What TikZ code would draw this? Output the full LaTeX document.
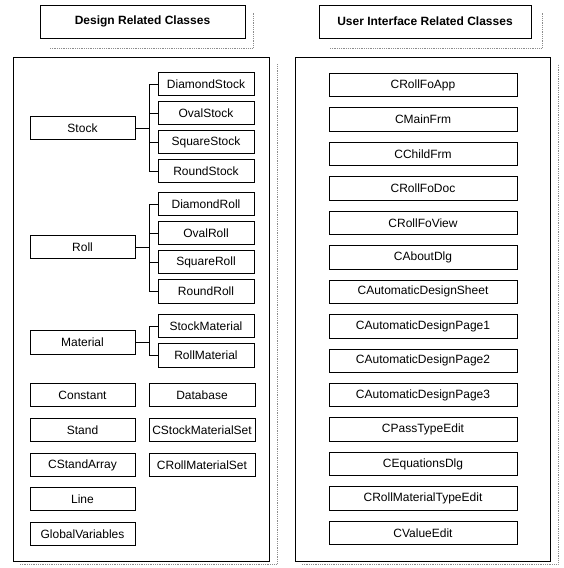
\documentclass[tikz,border=0pt]{standalone}
\usepackage{fontspec}
\setmainfont{Liberation Sans}
\begin{document}
\begin{tikzpicture}[x=1pt,y=-1pt,
  cls/.style={draw=black,line width=0.8pt,rectangle,inner sep=0pt,minimum height=23.5pt,font=\fontsize{12}{14}\selectfont},
  mainbox/.style={cls,minimum width=105pt},
  subbox/.style={cls,minimum width=96pt},
  setbox/.style={cls,minimum width=106pt},
  uibox/.style={cls,minimum width=188pt},
  titlebox/.style={draw=black,line width=0.9pt,rectangle,inner sep=0pt,minimum height=33pt,font=\fontsize{12}{14}\selectfont\bfseries},
  panel/.style={draw=black,line width=0.9pt},
  shadow/.style={draw=black!45,line width=0.8pt,densely dotted},
  link/.style={draw=black,line width=0.8pt}]
\useasboundingbox (0,0) rectangle (563,568);

% title boxes with shadows
\draw[shadow] (50,48) -- (253,48) -- (253,13);
\node[titlebox,minimum width=205pt] (t1) at (142.5,21.5) {Design Related Classes};
\draw[shadow] (330,48) -- (542,48) -- (542,13);
\node[titlebox,minimum width=212pt] (t2) at (425,21.5) {User Interface Related Classes};

% panels with shadows
\draw[shadow] (20,564) -- (277,564) -- (277,64);
\draw[panel] (13,57) rectangle (269,561);
\draw[shadow] (302,564) -- (558,564) -- (558,64);
\draw[panel] (295,57) rectangle (550,561);

% left: design classes
\node[mainbox] (stock) at (82.5,128) {Stock};
\node[subbox] (ds) at (206,84) {DiamondStock};
\node[subbox] (os) at (206,113) {OvalStock};
\node[subbox] (ss) at (206,142) {SquareStock};
\node[subbox] (rs) at (206,171) {RoundStock};

\node[mainbox] (roll) at (82.5,247) {Roll};
\node[subbox] (dr) at (206,204) {DiamondRoll};
\node[subbox] (or) at (206,233) {OvalRoll};
\node[subbox] (sr) at (206,262) {SquareRoll};
\node[subbox] (rr) at (206,291.5) {RoundRoll};

\node[mainbox] (mat) at (82.5,342.5) {Material};
\node[subbox] (sm) at (206,326) {StockMaterial};
\node[subbox] (rm) at (206,355.5) {RollMaterial};

\node[mainbox] (const) at (82.5,395) {Constant};
\node[setbox] (db) at (202,395) {Database};
\node[mainbox] (stand) at (82.5,430) {Stand};
\node[setbox] (sms) at (202,430) {CStockMaterialSet};
\node[mainbox] (sa) at (82.5,465) {CStandArray};
\node[setbox] (rms) at (202,465) {CRollMaterialSet};
\node[mainbox] (line) at (82.5,499) {Line};
\node[mainbox] (gv) at (82.5,534) {GlobalVariables};

% connectors
\coordinate (tr) at (149,0);
\draw[link] (stock.east) -- (stock.east -| tr);
\draw[link] (ds.west) -- (ds.west -| tr) -- (rs.west -| tr) -- (rs.west);
\draw[link] (os.west) -- (os.west -| tr);
\draw[link] (ss.west) -- (ss.west -| tr);

\draw[link] (roll.east) -- (roll.east -| tr);
\draw[link] (dr.west) -- (dr.west -| tr) -- (rr.west -| tr) -- (rr.west);
\draw[link] (or.west) -- (or.west -| tr);
\draw[link] (sr.west) -- (sr.west -| tr);

\draw[link] (mat.east) -- (mat.east -| tr);
\draw[link] (sm.west) -- (sm.west -| tr) -- (rm.west -| tr) -- (rm.west);

% right: UI classes
\foreach \n/\t [count=\i from 0] in {a/CRollFoApp,b/CMainFrm,c/CChildFrm,d/CRollFoDoc,e/CRollFoView,f/CAboutDlg,g/CAutomaticDesignSheet,h/CAutomaticDesignPage1,k/CAutomaticDesignPage2,l/CAutomaticDesignPage3,m/CPassTypeEdit,n/CEquationsDlg,o/CRollMaterialTypeEdit,p/CValueEdit}
  \node[uibox] (ui\n) at (423,{85+34.46*\i}) {\t};
\end{tikzpicture}
\end{document}
